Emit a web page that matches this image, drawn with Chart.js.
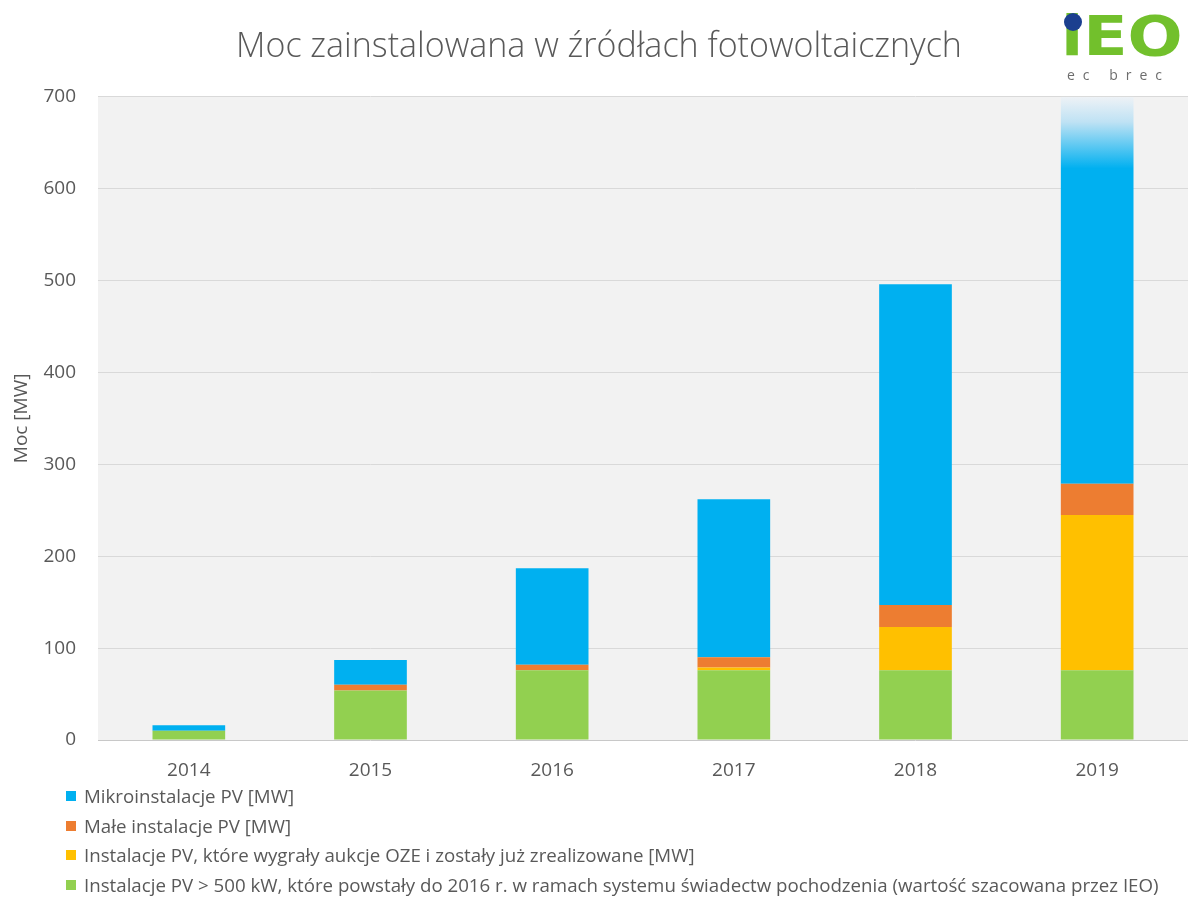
<!DOCTYPE html>
<html lang="pl">
<head>
  <meta charset="UTF-8" />
  <title>Moc zainstalowana w źródłach fotowoltaicznych</title>
  <script src="https://cdn.jsdelivr.net/npm/chart.js"></script>
  <style>
    html, body {
      margin: 0;
      background: #ffffff;
      font-family: 'Open Sans', sans-serif;
    }

    .wrap {
      position: relative;
      width: 1200px;
      height: 900px;
    }

    #chartBox {
      position: absolute;
      left: 0;
      top: 0;
      width: 1200px;
      height: 785px;
    }

    .logo {
      position: absolute;
      left: 1061px;
      top: 5px;
      width: 139px;
    }

    .logo .mark {
      font-family: 'DejaVu Sans', sans-serif;
      font-weight: bold;
      font-size: 55px;
      line-height: 62px;
      color: #72c02c;
      transform: scaleX(1.18);
      transform-origin: left center;
    }

    .logo .dot {
      position: absolute;
      left: 3px;
      top: 8px;
      width: 18px;
      height: 18px;
      border-radius: 50%;
      background: #1b3f8f;
    }

    .logo .sub {
      font-size: 14px;
      line-height: 16px;
      color: #6d6d6d;
      letter-spacing: 8px;
      word-spacing: 0px;
      margin-left: 6px;
      margin-top: 0px;
    }

    #legend {
      position: absolute;
      left: 66px;
      top: 781px;
      list-style: none;
      margin: 0;
      padding: 0;
      color: #595959;
      font-size: 18.7px;
    }

    #legend li {
      height: 29.7px;
      line-height: 26px;
      display: flex;
      align-items: center;
    }

    #legend span.box {
      display: inline-block;
      width: 10px;
      height: 10px;
      margin-right: 8px;
    }
  </style>
</head>
<body>
  <div class="wrap">
    <div id="chartBox"><canvas id="pvChart"></canvas></div>

    <div class="logo">
      <div class="mark">iEO</div>
      <div class="dot"></div>
      <div class="sub">ec brec</div>
    </div>

    <ul id="legend"></ul>
  </div>

  <script>
    const years = ['2014', '2015', '2016', '2017', '2018', '2019'];

    // MW
    const ponad500kW = [10, 54, 76, 76, 76, 76];
    const aukcjeOZE = [0, 0, 0, 3, 47, 169];
    const maleInstalacje = [0, 6, 6, 11, 24, 34];
    const mikroinstalacje = [6, 27, 105, 172, 349, 421];

    const yTicks = [0, 100, 200, 300, 400, 500, 600, 700];

    const BLUE = '#00b0f0';
    const ORANGE = '#ed7d31';
    const YELLOW = '#ffc000';
    const GREEN = '#92d050';
    const TEXT = '#595959';

    // last blue bar fades out at the top
    function mikroColor(ctx) {
      if (ctx.dataIndex !== years.length - 1) return BLUE;
      const chart = ctx.chart;
      if (!chart.chartArea) return BLUE;
      const y = chart.scales.y;
      const g = chart.ctx.createLinearGradient(0, y.getPixelForValue(700), 0, y.getPixelForValue(622));
      g.addColorStop(0, '#eef2f6');
      g.addColorStop(0.35, '#bfe2f4');
      g.addColorStop(1, BLUE);
      return g;
    }

    const plotBg = {
      id: 'plotBg',
      beforeDraw(chart) {
        const a = chart.chartArea;
        const c = chart.ctx;
        c.save();
        c.fillStyle = '#f2f2f2';
        c.fillRect(a.left, a.top, a.right - a.left, a.bottom - a.top);
        c.restore();
      }
    };

    const chart = new Chart(document.getElementById('pvChart'), {
      type: 'bar',
      data: {
        labels: years,
        datasets: [
          {
            label: 'Instalacje PV > 500 kW, które powstały do 2016 r. w ramach systemu świadectw pochodzenia (wartość szacowana przez IEO)',
            data: ponad500kW,
            backgroundColor: GREEN,
            legendColor: GREEN
          },
          {
            label: 'Instalacje PV, które wygrały aukcje OZE i zostały już zrealizowane [MW]',
            data: aukcjeOZE,
            backgroundColor: YELLOW,
            legendColor: YELLOW
          },
          {
            label: 'Małe instalacje PV [MW]',
            data: maleInstalacje,
            backgroundColor: ORANGE,
            legendColor: ORANGE
          },
          {
            label: 'Mikroinstalacje PV [MW]',
            data: mikroinstalacje,
            backgroundColor: mikroColor,
            legendColor: BLUE
          }
        ]
      },
      options: {
        responsive: true,
        maintainAspectRatio: false,
        animation: false,
        datasets: {
          bar: {
            categoryPercentage: 1,
            barPercentage: 0.4,
            borderWidth: 0
          }
        },
        layout: {
          padding: { left: 10, right: 12, bottom: 4 }
        },
        plugins: {
          legend: { display: false },
          tooltip: { enabled: false },
          title: {
            display: true,
            text: 'Moc zainstalowana w źródłach fotowoltaicznych',
            color: TEXT,
            font: { family: 'Open Sans', size: 34, weight: 300 },
            padding: { top: 27, bottom: 29 }
          }
        },
        scales: {
          x: {
            stacked: true,
            grid: { display: false, drawTicks: false },
            border: { display: false },
            ticks: {
              color: TEXT,
              padding: 19,
              font: { family: 'Open Sans', size: 19 }
            },
            afterFit(scale) {
              scale.height = 41;
            }
          },
          y: {
            stacked: true,
            min: 0,
            max: 700,
            afterBuildTicks(axis) {
              axis.ticks = yTicks.map(v => ({ value: v }));
            },
            afterFit(scale) {
              scale.width = 88;
            },
            grid: {
              drawTicks: false,
              color: ctx => (ctx.tick && ctx.tick.value === 0) ? '#c8c8c8' : '#d9d9d9'
            },
            border: { display: false },
            ticks: {
              color: TEXT,
              padding: 22,
              font: { family: 'Open Sans', size: 19 }
            },
            title: {
              display: true,
              text: 'Moc [MW]',
              color: TEXT,
              font: { family: 'Open Sans', size: 19 },
              padding: { top: 0, bottom: 0 }
            }
          }
        }
      },
      plugins: [plotBg]
    });

    // legend: one item per line, top item = top of the stack
    const legendEl = document.getElementById('legend');
    chart.data.datasets.slice().reverse().forEach(ds => {
      const li = document.createElement('li');
      const box = document.createElement('span');
      box.className = 'box';
      box.style.background = ds.legendColor;
      li.appendChild(box);
      li.appendChild(document.createTextNode(ds.label));
      legendEl.appendChild(li);
    });
  </script>
</body>
</html>
